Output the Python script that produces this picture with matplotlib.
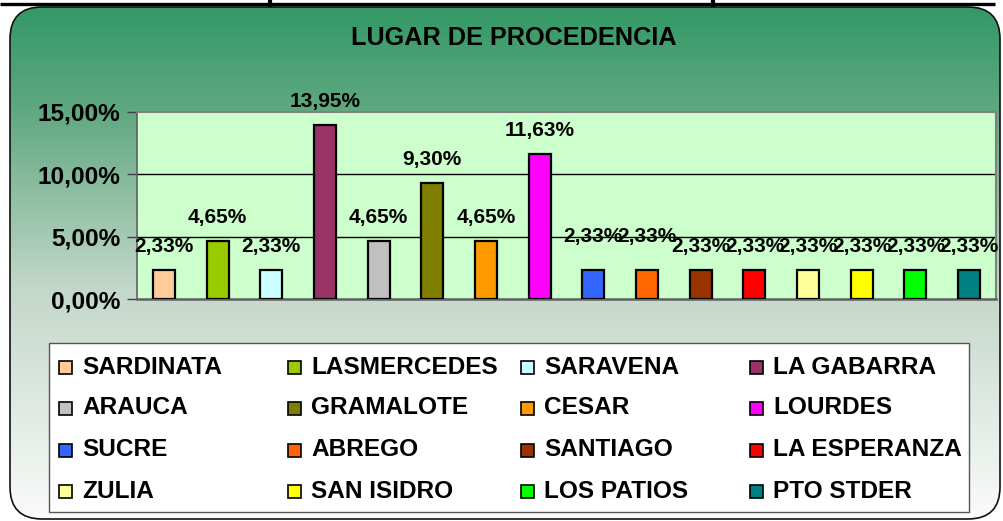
import numpy as np
import matplotlib
matplotlib.use("Agg")
import matplotlib.pyplot as plt
from matplotlib.patches import FancyBboxPatch, Rectangle
from matplotlib.ticker import FuncFormatter

# ---- data ----
categories = ["SARDINATA", "LASMERCEDES", "SARAVENA", "LA GABARRA",
              "ARAUCA", "GRAMALOTE", "CESAR", "LOURDES",
              "SUCRE", "ABREGO", "SANTIAGO", "LA ESPERANZA",
              "ZULIA", "SAN ISIDRO", "LOS PATIOS", "PTO STDER"]
values = [2.33, 4.65, 2.33, 13.95, 4.65, 9.30, 4.65, 11.63,
          2.33, 2.33, 2.33, 2.33, 2.33, 2.33, 2.33, 2.33]
colors = ["#FFCC99", "#99CC00", "#CCFFFF", "#993366",
          "#C0C0C0", "#808000", "#FF9900", "#FF00FF",
          "#3366FF", "#FF6600", "#993300", "#FF0000",
          "#FFFF99", "#FFFF00", "#00FF00", "#008080"]
yticks = [0, 5, 10, 15]
title = "LUGAR DE PROCEDENCIA"
# label offsets (points above bar top)
label_offsets = [17] * 8 + [24, 24] + [17] * 6

FONT = "Liberation Sans"
W, H = 1004, 521
fig = plt.figure(figsize=(W / 100, H / 100), dpi=100)
fig.patch.set_facecolor("white")

# ---- background with gradient rounded rectangle ----
bg = fig.add_axes([0, 0, 1, 1], zorder=0)
bg.set_xlim(0, W)
bg.set_ylim(H, 0)
bg.axis("off")
box = FancyBboxPatch((10, 7), 990, 512, boxstyle="round,pad=0,rounding_size=32",
                     facecolor="none", edgecolor="none")
bg.add_patch(box)
stops_t = [0.0, 0.2, 0.55, 1.0]
stops_c = np.array([[51, 153, 102], [95, 168, 128], [195, 215, 202], [250, 251, 250]]) / 255
t = np.linspace(0, 1, 512)
grad = np.stack([np.interp(t, stops_t, stops_c[:, k]) for k in range(3)], axis=1)
grad = np.repeat(grad[:, None, :], 2, axis=1)
im = bg.imshow(grad, extent=(10, 1000, 519, 7), aspect="auto", zorder=1)
im.set_clip_path(box)
border = FancyBboxPatch((10, 7), 990, 512, boxstyle="round,pad=0,rounding_size=32",
                        facecolor="none", edgecolor="#111111", linewidth=1.2, zorder=3)
bg.add_patch(border)
bg.plot([0, 995], [4, 4], color="black", lw=2.4, zorder=4, solid_capstyle="butt")
bg.plot([270, 270], [0, 5], color="black", lw=3, zorder=4)
bg.plot([713, 713], [0, 5], color="black", lw=3, zorder=4)

# title
fig.text(514 / W, 1 - 38 / H, title, ha="center", va="center",
         fontsize=18.2, fontweight="bold", family=FONT)

# ---- plot area ----
ax = fig.add_axes([137 / W, 1 - 299 / H, (996 - 137) / W, (299 - 112) / H], zorder=2)
ax.set_facecolor("#CCFFCC")
x = np.arange(len(categories))
bars = ax.bar(x, values, width=0.41, color=colors, edgecolor="black", linewidth=1.6, zorder=3)
ax.set_xlim(-0.5, len(categories) - 0.5)
ax.set_ylim(0, 15)
ax.set_yticks(yticks)
ax.yaxis.set_major_formatter(FuncFormatter(lambda v, p: f"{v:.2f}%".replace(".", ",")))
for lab in ax.get_yticklabels():
    lab.set_fontfamily(FONT)
    lab.set_fontweight("bold")
    lab.set_fontsize(17.6)
ax.tick_params(axis="y", length=7, width=1, color="#404040", pad=5)
ax.tick_params(axis="x", length=0, labelbottom=False)
for yv in yticks[1:-1]:
    ax.axhline(yv, color="black", lw=1, zorder=1)
for s in ["top", "right"]:
    ax.spines[s].set_color("#808080")
    ax.spines[s].set_linewidth(1.5)
ax.spines["left"].set_color("#606060")
ax.spines["bottom"].set_color("#606060")
ax.spines["left"].set_linewidth(1.2)
ax.spines["bottom"].set_linewidth(1.8)

for xi, v, off in zip(x, values, label_offsets):
    ax.annotate(f"{v:.2f}%".replace(".", ","), (xi, v), xytext=(0, off),
                textcoords="offset points", ha="center", va="center",
                fontsize=15, fontweight="bold", family=FONT, zorder=5,
                annotation_clip=False)

# ---- legend (row-wise, 4 columns, uniform spacing) ----
lg = fig.add_axes([0, 0, 1, 1], zorder=3)
lg.set_xlim(0, W)
lg.set_ylim(H, 0)
lg.axis("off")
lg.add_patch(Rectangle((49, 343), 920, 169, facecolor="white",
                       edgecolor="#555555", linewidth=1.0))
col_x = [59, 288, 521, 750]
row_y = [367, 408, 450, 491]
for i, (name, c) in enumerate(zip(categories, colors)):
    r, cidx = divmod(i, 4)
    xx, yy = col_x[cidx], row_y[r]
    lg.add_patch(Rectangle((xx, yy - 6), 13, 13, facecolor=c,
                           edgecolor="black", linewidth=1.2))
    lg.text(xx + 23, yy, name, ha="left", va="center", fontsize=17.6,
            fontweight="bold", family=FONT)

fig.savefig("out.png", dpi=100)
